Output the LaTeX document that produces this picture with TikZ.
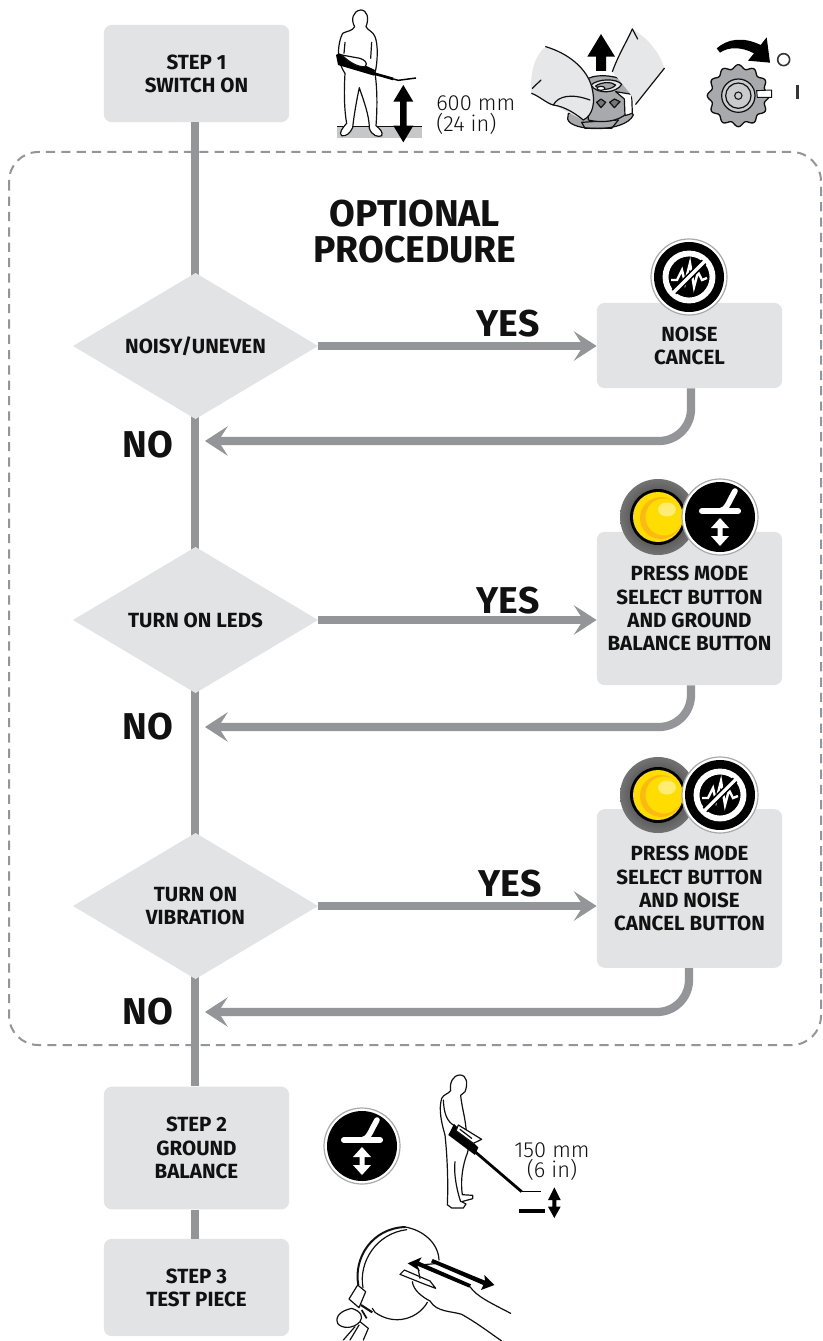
\documentclass[tikz,border=0pt]{standalone}
\usepackage{fontspec}
\setmainfont{Fira Sans}
\newfontfamily\dimfont{Fira Sans Light}
\usetikzlibrary{arrows.meta,calc}
\definecolor{boxgray}{HTML}{E2E3E5}
\definecolor{flowgray}{HTML}{939598}
\definecolor{knobgray}{HTML}{A7A9AC}
\definecolor{handgray}{HTML}{E6E7E8}
\definecolor{ink}{HTML}{111111}
\definecolor{gold}{HTML}{FDB913}
\definecolor{brightyellow}{HTML}{FFDD00}
\tikzset{
  x=0.75pt,y=-0.75pt,
  flow/.style={draw=flowgray,line width=6.2pt},
  flowarrow/.style={flow,-{Stealth[length=17pt,width=22pt,inset=7pt]}},
  procbox/.style={fill=boxgray,rounded corners=6pt,inner sep=0pt,align=center,text=ink,
     font=\fontsize{15.4}{17.4}\selectfont\bfseries},
  decide/.style={fill=boxgray,inner sep=0pt,align=center,text=ink,font=\fontsize{15.4}{17.4}\selectfont\bfseries},
  bigword/.style={inner sep=0pt,text=ink,font=\fontsize{28}{28}\selectfont\bfseries},
  dimtext/.style={inner sep=0pt,text=ink,align=left,font=\dimfont\fontsize{16.4}{16.4}\selectfont},
  zoomed/.style={x=0.25pt,y=-0.25pt},
  outline/.style={draw=ink,line width=0.9pt,line join=round,line cap=round},
  noiseicon/.pic={
    \fill[white,draw=knobgray,line width=0.9pt] (0,0) circle (38);
    \fill[black] (0,0) circle (35);
    \draw[white,line width=4.4pt] (0,0) circle (23.5);
    \draw[white,line width=1.8pt,line join=miter] (-18,3) -- (-12,3) -- (-7,-7) -- (-4,6) -- (1,-14) -- (5,10) -- (9,-5) -- (13,3) -- (18,1);
    \draw[black,line width=5pt] (-15,15) -- (15,-15);
    \draw[white,line width=2.4pt] (-18,18) -- (18,-18);
  },
  groundicon/.pic={
    \fill[white,draw=knobgray,line width=0.9pt] (0,0) circle (38);
    \fill[black] (0,0) circle (35);
    \draw[white,line width=4.6pt,line cap=round] (-18,-6) -- (18,-6);
    \draw[white,line width=4.2pt,line cap=round] (0,-6) .. controls (7,-7) and (9,-16) .. (15,-26);
    \fill[white] (0,1) -- (9,11) -- (2.5,11) -- (2.5,19) -- (9,19) -- (0,29) -- (-9,19) -- (-2.5,19) -- (-2.5,11) -- (-9,11) -- cycle;
  },
  yellowbutton/.pic={
    \shade[outer color=black!55,inner color=black!85] (0,0) circle (38);
    \fill[black] (0,0) circle (28);
    \fill[brightyellow] (0,0) circle (25);
    \fill[gold] (3,1) circle (21);
    \fill[brightyellow] (6,0) circle (18.5);
    \fill[white!45!brightyellow] (9,-7.5) ellipse (9 and 7);
  }
}
\begin{document}
\begin{tikzpicture}
\useasboundingbox (0,0) rectangle (822,1341);
\fill[white] (0,0) rectangle (822,1341);

% dashed frame
\draw[flowgray,line width=1.5pt,dash pattern=on 6.9pt off 4.6pt,rounded corners=22pt]
  (9,152) rectangle (821,1045);

% nodes
\node[procbox,minimum width=139pt,minimum height=73pt] (step1) at (196.5,73.5) {STEP 1\\SWITCH ON};
\node[procbox,minimum width=139pt,minimum height=64pt] (noise) at (689.5,345.5) {NOISE\\CANCEL};
\node[procbox,minimum width=139pt,minimum height=115pt] (leds) at (689.5,608.5) {PRESS MODE\\SELECT BUTTON\\AND GROUND\\BALANCE BUTTON};
\node[procbox,minimum width=139pt,minimum height=119pt] (vib) at (689.5,888.5) {PRESS MODE\\SELECT BUTTON\\AND NOISE\\CANCEL BUTTON};
\node[procbox,minimum width=139pt,minimum height=92pt] (step2) at (196.5,1148) {STEP 2\\GROUND\\BALANCE};
\node[procbox,minimum width=139pt,minimum height=73pt] (step3) at (196.5,1287.5) {STEP 3\\TEST PIECE};

\coordinate (no1pt) at (205,441);
\coordinate (no2pt) at (205,727);
\coordinate (no3pt) at (205,1012);

% trunk (drawn below the diamonds)
\coordinate (d1c) at (195,346);
\coordinate (d2c) at (195,620);
\coordinate (d3c) at (195,906);
\draw[flow] (step1.south -| d1c) -- (d1c);
\draw[flow] (d1c) -- (d2c);
\draw[flow] (d2c) -- (d3c);
\draw[flow] (d3c) -- (step2.north -| d3c);
\draw[flow] (step2.south -| d3c) -- (step3.north -| d3c);

% decisions
\fill[boxgray] (73,346) -- (195.5,273) -- (318,346) -- (195.5,419) -- cycle;
\fill[boxgray] (73,620) -- (195.5,547) -- (318,620) -- (195.5,693) -- cycle;
\fill[boxgray] (73,906) -- (195.5,833) -- (318,906) -- (195.5,979) -- cycle;
\node[decide] (d1) at (195.5,346) {NOISY/UNEVEN};
\node[decide] (d2) at (195.5,620) {TURN ON LEDS};
\node[decide] (d3) at (195.5,906) {TURN ON\\VIBRATION};

% yes arrows
\coordinate (d1r) at (318,346);
\coordinate (d2r) at (318,620);
\coordinate (d3r) at (318,906);
\draw[flowarrow] (d1r) -- (d1r -| noise.west);
\draw[flowarrow] (d2r) -- (d2r -| leds.west);
\draw[flowarrow] (d3r) -- (d3r -| vib.west);

% returns
\draw[flowarrow,rounded corners=24pt] (noise.south) ++(1.5,0) |- (no1pt);
\draw[flowarrow,rounded corners=24pt] (leds.south) ++(1.5,0) |- (no2pt);
\draw[flowarrow,rounded corners=24pt] (vib.south) ++(-0.5,0) |- (no3pt);

% words
\node[inner sep=0pt,align=center,text=ink,font=\fontsize{28}{27}\selectfont\bfseries] (title) at (415,232) {OPTIONAL\\PROCEDURE};
\node[bigword] (yes1) at (508,324) {YES};
\node[bigword] (yes2) at (508,601) {YES};
\node[bigword] (yes3) at (510,884) {YES};
\node[bigword] (no1) at (148,445) {NO};
\node[bigword] (no2) at (148,727) {NO};
\node[bigword] (no3) at (148,1012) {NO};

% icons
\pic at (689,277) {noiseicon};
\pic at (658,517) {yellowbutton};
\pic at (720,517) {groundicon};
\pic at (658,795) {yellowbutton};
\pic at (720,795) {noiseicon};
\pic at (362,1146) {groundicon};

% dimension text
\node[dimtext,anchor=west] (dim600) at (436,103) {600 mm};
\node[dimtext,anchor=west] (dim24) at (436,124) {(24 in)};
\node[dimtext,align=center] (dim150) at (552,1150) {150 mm};
\node[dimtext,align=center] (dim6) at (552,1170) {(6 in)};

% person with detector, top
\begin{scope}[shift={(330,5)},zoomed]
  \fill[knobgray!65] (22,365) rectangle (277,400);
  \draw[ink,line width=0.5pt] (22,365) -- (277,365);
  \filldraw[fill=white,outline] (74,65) .. controls (62,45) and (68,18) .. (92,15)
     .. controls (112,15) and (118,40) .. (108,65) .. controls (112,75) and (130,80) .. (135,95)
     .. controls (145,120) and (143,170) .. (135,205) .. controls (142,250) and (142,310) .. (138,362)
     .. controls (150,372) and (160,382) .. (155,392) .. controls (145,398) and (125,392) .. (118,370)
     .. controls (118,330) and (100,285) .. (88,248) .. controls (80,285) and (72,330) .. (68,368)
     .. controls (60,385) and (48,395) .. (35,392) .. controls (25,385) and (38,368) .. (50,355)
     .. controls (42,310) and (42,255) .. (45,205) .. controls (38,195) and (30,180) .. (25,150)
     .. controls (25,120) and (32,95) .. (38,85) .. controls (50,78) and (68,78) .. (74,65) -- cycle;
  \draw[outline] (45,112) -- (42,145);
  \draw[outline] (125,112) -- (122,160);
  \fill[black] (18,150) -- (28,145) -- (135,195) -- (132,212) -- (24,180) -- cycle;
  \filldraw[fill=white,outline] (35,150) -- (90,160) .. controls (105,165) and (115,175) .. (105,185) .. controls (85,188) and (55,170) .. (35,150) -- cycle;
  \draw[black,line width=2pt] (130,205) -- (190,222);
  \draw[black,line width=1.1pt] (190,222) -- (205,226) -- (258,219);
  \fill[black] (220,240) -- (250,290) -- (230,290) -- (230,362) -- (250,362) -- (220,412) -- (190,362) -- (210,362) -- (210,290) -- (190,290) -- cycle;
\end{scope}

% knob with hands
\begin{scope}[shift={(525,25)},zoomed]
  \filldraw[fill=knobgray,outline] (128,282) .. controls (135,320) and (300,325) .. (325,270) -- (310,245) -- (130,265) -- cycle;
  \draw[outline] (170,292) -- (180,310) -- (260,310) -- (280,285);
  \draw[outline] (170,292) -- (280,285);
  \filldraw[fill=knobgray,outline] (190,160) -- (190,285) .. controls (230,295) and (280,290) .. (305,265) -- (325,190) .. controls (300,150) and (220,145) .. (190,160) -- cycle;
  \filldraw[fill=handgray,outline] (198,180) .. controls (220,160) and (275,160) .. (290,178) .. controls (275,205) and (215,210) .. (198,180) -- cycle;
  \filldraw[fill=knobgray,outline] (212,183) .. controls (230,170) and (260,170) .. (272,180) .. controls (260,195) and (225,198) .. (212,183) -- cycle;
  \filldraw[fill=white,outline] (228,190) ellipse (12 and 6);
  \filldraw[fill=knobgray!70!black,outline] (215,232) -- (228,222) -- (242,232) -- (228,248) -- cycle;
  \filldraw[fill=knobgray!70!black,outline] (254,232) -- (268,222) -- (285,230) -- (268,248) -- cycle;
  \filldraw[fill=white,outline] (272,200) -- (320,208) -- (322,265) -- (300,272) -- (298,222) -- cycle;
  % left hand
  \fill[handgray] (62,65) .. controls (30,90) and (15,140) .. (18,205) -- (85,240) -- (175,285) .. controls (205,270) and (212,230) .. (200,185) .. controls (185,130) and (130,85) .. (62,65) -- cycle;
  \draw[outline] (62,65) .. controls (130,85) and (185,130) .. (200,185) .. controls (212,230) and (205,270) .. (175,285);
  \draw[outline] (20,205) .. controls (45,215) and (65,235) .. (85,240) .. controls (120,245) and (150,265) .. (175,285);
  \draw[outline] (85,240) .. controls (100,212) and (140,205) .. (195,225);
  \draw[outline] (22,190) -- (48,165);
  % right hand
  \fill[handgray] (322,12) .. controls (370,40) and (405,85) .. (418,130) -- (332,238) -- (315,205) -- (262,140) .. controls (280,90) and (305,50) .. (322,12) -- cycle;
  \draw[outline] (322,12) .. controls (305,50) and (280,90) .. (262,140);
  \draw[outline] (322,12) -- (338,42);
  \draw[outline] (418,130) -- (332,238);
  % up arrow
  \fill[black] (228,27) -- (270,95) -- (243,95) -- (243,138) -- (213,138) -- (213,95) -- (187,95) -- cycle;
\end{scope}

% power knob
\begin{scope}[shift={(320,0)},zoomed]
  \filldraw[fill=knobgray,outline,line width=1pt] plot[domain=0:360,samples=181,smooth] ({1255+(87+6*cos(12*\x))*cos(\x)},{287+(87+6*cos(12*\x))*sin(\x)}) -- cycle;
  \draw[ink,line width=0.9pt,fill=knobgray!60] (1255,287) circle (50);
  \draw[ink,line width=0.9pt] (1255,287) circle (38);
  \draw[ink,line width=0.8pt] (1255,287) circle (11);
  \filldraw[fill=white,draw=ink,line width=0.7pt] (1310,272) -- (1355,270) -- (1355,292) -- (1312,292) -- cycle;
  \fill[black] (1190,145) .. controls (1225,115) and (1270,110) .. (1322,135) -- (1340,112) -- (1350,188) -- (1284,182) -- (1302,160) .. controls (1265,140) and (1225,140) .. (1200,158) -- cycle;
  \draw[ink!85,line width=1.2pt] (1391,179) circle (18);
  \draw[ink!85,line width=2.4pt] (1432,256) -- (1432,296);
\end{scope}

% person, lower
\begin{scope}[shift={(430,1070)},zoomed]
  \filldraw[fill=white,outline] (62,62) .. controls (58,40) and (68,15) .. (90,15)
     .. controls (110,15) and (115,40) .. (105,65) -- (92,76)
     .. controls (95,110) and (105,140) .. (108,175) .. controls (118,210) and (118,240) .. (108,260)
     .. controls (95,300) and (92,340) .. (97,374) -- (128,376) -- (128,386) -- (95,395) -- (108,402) -- (100,414) -- (65,414) -- (52,404)
     .. controls (55,340) and (52,260) .. (45,195) .. controls (35,160) and (25,120) .. (35,85) .. controls (42,72) and (55,72) .. (62,62) -- cycle;
  \draw[outline] (40,90) .. controls (42,130) and (50,155) .. (75,168);
  \draw[outline] (75,275) .. controls (70,320) and (85,375) .. (92,395);
  \fill[black] (72,162) -- (145,232) -- (135,255) -- (55,195) -- cycle;
  \filldraw[fill=white,outline] (85,165) -- (155,208) -- (130,220) -- (78,182) -- cycle;
  \draw[outline] (90,178) -- (125,205);
  \draw[black,line width=2.1pt] (135,245) -- (275,365);
  \draw[black,line width=1.1pt] (275,365) -- (333,365);
\end{scope}
\begin{scope}[shift={(310,1060)},zoomed]
  \draw[black,line width=3pt] (627,454) -- (705,454);
  \fill[black] (733,382) -- (752,420) -- (739,420) -- (739,440) -- (752,440) -- (733,474) -- (714,440) -- (727,440) -- (727,420) -- (714,420) -- cycle;
\end{scope}

% test piece
\begin{scope}[shift={(335,1225)},zoomed]
  \draw[outline] (210,6) .. controls (265,15) and (310,55) .. (312,105);
  \draw[outline] (277,232) .. controls (250,280) and (180,305) .. (120,262) -- (112,250);
  \draw[ink,line width=1.5pt,line cap=round] (70,180) .. controls (55,100) and (110,10) .. (210,6);
  \draw[outline] (84,188) .. controls (70,110) and (125,25) .. (215,14);
  \filldraw[fill=white,outline] (68,180) -- (92,200) -- (72,248) -- (42,222) -- cycle;
  \filldraw[fill=white,outline] (50,250) .. controls (15,258) and (0,275) .. (8,295) .. controls (20,312) and (55,312) .. (75,290) .. controls (85,275) and (80,260) .. (50,250) -- cycle;
  \draw[ink,line width=1.6pt] (78,240) -- (112,262);
  \draw[outline] (75,290) -- (100,310) -- (85,345);
  \draw[outline] (60,305) -- (25,345) (72,300) -- (45,345);
  \draw[ink,line width=1.3pt] (80,255) -- (95,280);
  \filldraw[fill=white,outline] (195,148) -- (208,135) -- (285,168) -- (302,190) -- (270,178) -- cycle;
  \draw[outline] (232,170) .. controls (235,195) and (260,215) .. (285,228) .. controls (305,262) and (350,258) .. (380,268) .. controls (420,290) and (460,320) .. (500,348);
  \draw[outline] (405,185) .. controls (425,215) and (470,235) .. (527,265);
  \draw[outline] (255,120) -- (310,115) (250,135) -- (255,160);
  \fill[black] (218,115) -- (260,97) -- (252,110) -- (408,178) -- (403,188) -- (247,122) -- (255,138) -- cycle;
  \fill[black] (478,180) -- (438,195) -- (445,180) -- (288,112) -- (293,102) -- (450,167) -- (448,150) -- cycle;
\end{scope}
\end{tikzpicture}
\end{document}
